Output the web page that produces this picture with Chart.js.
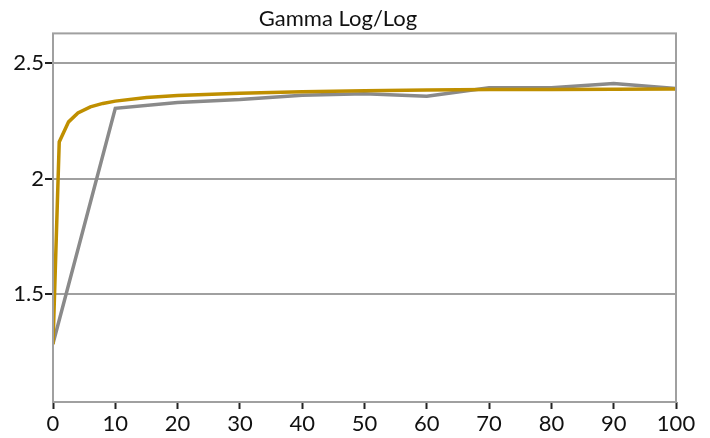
<!DOCTYPE html>
<html>
<head>
<meta charset="utf-8">
<script src="https://cdn.jsdelivr.net/npm/chart.js@4"></script>
<style>
  html,body{margin:0;padding:0;background:#fff;}
  #wrap{width:710px;height:438px;}
</style>
</head>
<body>
<div id="wrap"><canvas id="c" width="710" height="438"></canvas></div>
<script>
// ── data ──
var TITLE="Gamma Log/Log";
var grayX=[0,10,20,30,40,50,60,70,80,90,100];
var grayY=[1.284,2.305,2.330,2.343,2.362,2.368,2.357,2.394,2.394,2.413,2.391];
var goldX=[0,1,2.5,4,6,8,10,15,20,30,40,50,60,70,80,90,100];
var goldY=[1.28,2.159,2.246,2.285,2.311,2.326,2.336,2.352,2.360,2.370,2.377,2.381,2.384,2.386,2.387,2.388,2.389];
var yTicks=[1.5,2,2.5];

var FONT="Lato";
var GRID="#a0a0a0";

function pts(xs,ys){
  return xs.map(function(x,i){return{x:x,y:ys[i]};});
}

// frame round the plot area
var frame={
  id:"frame",
  afterDatasetsDraw:function(ch){
    var a=ch.chartArea,g=ch.ctx;
    g.save();
    g.strokeStyle=GRID;
    g.lineWidth=2;
    g.strokeRect(a.left,a.top,a.right-a.left,a.bottom-a.top);
    g.restore();
  }
};

new Chart(document.getElementById("c"),{
  type:"line",
  data:{
    datasets:[
      {label:"fit",data:pts(goldX,goldY),borderColor:"#bf8f00",borderWidth:3.5,pointRadius:0,tension:0,order:0},
      {label:"measured",data:pts(grayX,grayY),borderColor:"#8a8a8a",borderWidth:3.5,pointRadius:0,tension:0,order:1}
    ]
  },
  options:{
    responsive:false,
    animation:false,
    layout:{padding:{left:0,right:34,top:0,bottom:0}},
    plugins:{
      legend:{display:false},
      tooltip:{enabled:false},
      title:{display:true,text:TITLE,color:"#111",font:{family:FONT,size:22,weight:"normal"},padding:{top:6,bottom:1}}
    },
    scales:{
      x:{
        type:"linear",min:0,max:100,
        ticks:{stepSize:10,color:"#111",font:{family:FONT,size:22},padding:2,maxRotation:0},
        grid:{drawOnChartArea:false,drawTicks:true,tickLength:7,tickColor:"#222",tickWidth:2},
        border:{display:false},
        afterFit:function(s){s.height=36;}
      },
      y:{
        min:1.03,max:2.63,
        afterBuildTicks:function(s){s.ticks=yTicks.map(function(v){return{value:v};});},
        ticks:{color:"#111",font:{family:FONT,size:22},padding:1,callback:function(v){return String(v);}},
        grid:{color:GRID,lineWidth:2,tickLength:8,tickColor:"#222",tickWidth:2},
        border:{display:false},
        afterFit:function(s){s.width=53;}
      }
    }
  },
  plugins:[frame]
});
</script>
</body>
</html>
